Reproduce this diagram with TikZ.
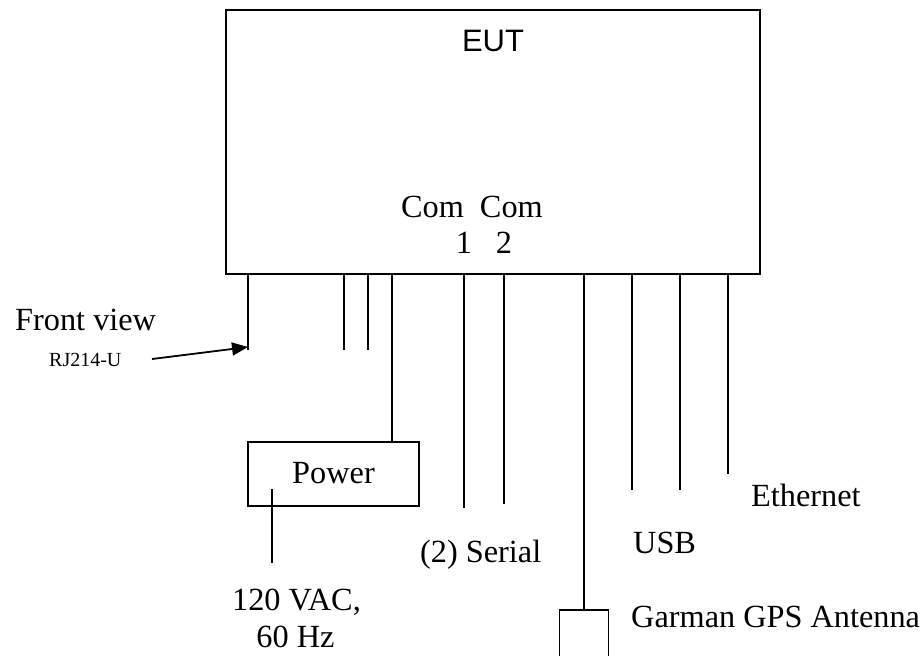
\documentclass[tikz,border=0pt]{standalone}
\usepackage{fontspec}
\setmainfont{Liberation Serif}
\setsansfont{Liberation Sans}
\usetikzlibrary{arrows.meta}
\tikzset{
  x=1pt, y=-1pt,
  wire/.style={line width=1.8pt, line cap=butt},
  boxstyle/.style={draw, line width=1.8pt, inner sep=0pt, rectangle},
  lbl/.style={font=\fontsize{32.3}{36}\selectfont, inner sep=0pt, anchor=base},
  lblw/.style={lbl, anchor=base west},
}
\begin{document}
\begin{tikzpicture}
\useasboundingbox (0,0) rectangle (922,656);
% EUT box
\node[boxstyle, minimum width=534pt, minimum height=264pt] (eut) at (493,142) {};
\node[inner sep=0pt, anchor=base, font=\sffamily\fontsize{31}{36}\selectfont] (eutlbl) at (493,51) {EUT};
\node[lbl] (com) at (472,217) {Com\hspace{16pt}Com};
\node[lbl] (com1) at (464,253) {1};
\node[lbl] (com2) at (504,253) {2};
% Power box
\node[boxstyle, minimum width=171pt, minimum height=64pt] (power) at (333.5,474) {};
\node[lbl] (powerlbl) at (333.5,483) {Power};
% GPS antenna box
\node[boxstyle, minimum width=49pt, minimum height=70pt] (gps) at (584,645) {};
% line end coordinates
\coordinate (fv) at (248,350);
\coordinate (p2) at (344,350);
\coordinate (p3) at (368,350);
\coordinate (pw) at (392,442);
\coordinate (s1) at (464,508);
\coordinate (s2) at (504,504);
\coordinate (u1) at (632,490);
\coordinate (u2) at (680,490);
\coordinate (et) at (728,474);
\coordinate (ac1) at (272,489);
\coordinate (ac2) at (272,563);
\coordinate (rjtail) at (152,359);
\coordinate (rjtip) at (248,347);
% connectors from EUT
\draw[wire] (fv |- eut.south) -- (fv);
\draw[wire] (p2 |- eut.south) -- (p2);
\draw[wire] (p3 |- eut.south) -- (p3);
\draw[wire] (pw |- eut.south) -- (pw);
\draw[wire] (s1 |- eut.south) -- (s1);
\draw[wire] (s2 |- eut.south) -- (s2);
\draw[wire] (gps.north |- eut.south) -- (gps.north);
\draw[wire] (u1 |- eut.south) -- (u1);
\draw[wire] (u2 |- eut.south) -- (u2);
\draw[wire] (et |- eut.south) -- (et);
\draw[wire] (ac1) -- (ac2);
% arrow
\draw[line width=1.8pt, -{Triangle[length=16pt,width=13pt]}] (rjtail) -- (rjtip);
% labels
\node[lblw] (front) at (15,330) {Front view};
\node[inner sep=0pt, anchor=base west, font=\fontsize{20}{24}\selectfont] (rj) at (49,366) {RJ214-U};
\node[lbl] (vac) at (296.5,610) {120 VAC,};
\node[lbl] (hz) at (295.5,647) {60 Hz};
\node[lblw] (serial) at (420,562) {(2) Serial};
\node[lblw] (usb) at (633,553) {USB};
\node[lblw] (eth) at (751,506) {Ethernet};
\node[lblw] (gpslbl) at (631,627) {Garman GPS Antenna};
\end{tikzpicture}
\end{document}
